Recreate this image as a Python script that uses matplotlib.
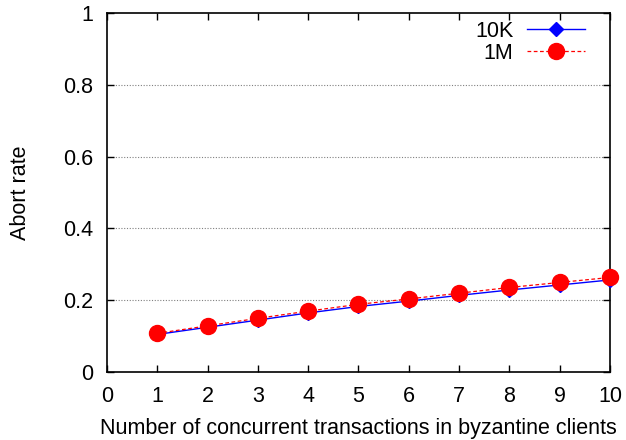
import numpy as np
import matplotlib
matplotlib.use('Agg')
import matplotlib.pyplot as plt

plt.rcParams['font.family'] = ['Liberation Sans', 'DejaVu Sans']

#data
x_txn   = [1, 2, 3, 4, 5, 6, 7, 8, 9, 10]
abort_10k = [0.104, 0.124, 0.144, 0.164, 0.182, 0.197, 0.213, 0.228, 0.242, 0.256]
abort_1m  = [0.107, 0.128, 0.149, 0.169, 0.188, 0.203, 0.219, 0.235, 0.249, 0.263]
x_ticks = list(range(0, 11))
y_ticks = [0, 0.2, 0.4, 0.6, 0.8, 1]
y_ticklabels = ['0', '0.2', '0.4', '0.6', '0.8', '1']

fs = 15.5

fig = plt.figure(figsize=(6.26, 4.4), dpi=100)
ax = fig.add_axes([107/626, 1-371.7/440, (610-107)/626, (371.7-13.3)/440])

#grid, horizontal only
for yv in y_ticks[1:-1]:
    ax.axhline(yv, color='#808080', ls=(0, (1, 1.5)), lw=0.8, zorder=0)

#markers at x=10 sit on the right border, so no clipping
ax.plot(x_txn, abort_10k, color='blue', ls='-', lw=1, marker='D', ms=7,
        mfc='blue', mec='blue', label='10K', zorder=3, clip_on=False)
ax.plot(x_txn, abort_1m, color='red', ls=(0, (3, 2)), lw=0.9, marker='o', ms=11.5,
        mfc='red', mec='red', label='1M', zorder=4, clip_on=False)

ax.set_xlim(0, 10)
ax.set_ylim(0, 1)
ax.set_xticks(x_ticks)
ax.set_yticks(y_ticks)
ax.set_yticklabels(y_ticklabels)
ax.tick_params(direction='in', length=5, width=1, labelsize=fs, top=True, right=True)
ax.tick_params(axis='y', pad=10)
ax.tick_params(axis='x', pad=10)
for s in ax.spines.values():
    s.set_linewidth(1.2)

ax.set_xlabel('Number of concurrent transactions in byzantine clients', fontsize=fs, labelpad=8)
ax.set_ylabel('Abort rate', fontsize=fs, labelpad=23)

#legend without frame, text left of sample
leg = ax.legend(loc='upper right', frameon=False, fontsize=fs, markerfirst=False,
                handlelength=2.65, handletextpad=0.65, labelspacing=0.05,
                bbox_to_anchor=(0.975, 1.015), borderaxespad=0.2)

fig.savefig('out.png', dpi=100)
